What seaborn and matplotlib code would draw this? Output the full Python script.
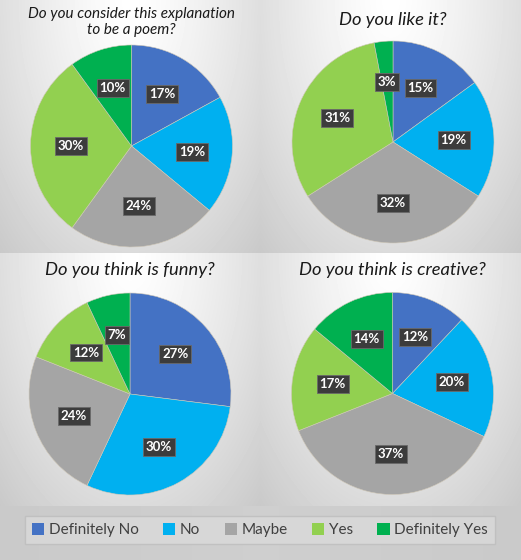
import numpy as np
import matplotlib
matplotlib.use("Agg")
import matplotlib.pyplot as plt
import seaborn as sns
from matplotlib.patches import Patch

sns.set_theme(style="white")
plt.rcParams['font.family'] = ['Lato', 'DejaVu Sans']

# answer categories and colours
categories = ["Definitely No", "No", "Maybe", "Yes", "Definitely Yes"]
palette = sns.color_palette(["#4472C4", "#00B0F0", "#A5A5A5", "#92D050", "#00B050"])

# survey questions and answer shares (%)
titles = ["Do you consider this explanation\nto be a poem?",
          "Do you like it?",
          "Do you think is funny?",
          "Do you think is creative?"]
poem = [17, 19, 24, 30, 10]
like = [15, 19, 32, 31, 3]
funny = [27, 30, 24, 12, 7]
creative = [12, 20, 37, 17, 14]
answers = [poem, like, funny, creative]

W, H = 521, 560
fig = plt.figure(figsize=(W / 100, H / 100), dpi=100)

# gray background with a soft light spot at the top of each panel
bg = np.full((H, W), 0.80)
yy, xx = np.mgrid[0:H, 0:W]
panels = [(0, 260, 0, 253), (260, W, 0, 253), (0, 260, 253, 506), (260, W, 253, 506)]
for x0, x1, y0, y1 in panels:
    m = (xx >= x0) & (xx < x1) & (yy >= y0) & (yy < y1)
    cx = (x0 + x1) / 2
    r = np.sqrt(((xx - cx) / ((x1 - x0) * 0.62)) ** 2 + ((yy - y0) / ((y1 - y0) * 1.15)) ** 2)
    bg[m] = np.clip(1.0 - 0.17 * r[m] ** 1.3, 0.74, 1.0)
m = yy >= 506
bg[m] = 0.81 - 0.02 * np.abs(xx[m] - W / 2) / (W / 2)
bax = fig.add_axes([0, 0, 1, 1])
bax.imshow(bg, cmap="gray", vmin=0, vmax=1, aspect="auto", interpolation="bilinear")
bax.axis("off")

# pie centres, title positions (pixels) and title sizes
centers = [(131.5, 146), (393, 142), (130, 394), (392.5, 393.5)]
title_y = [22, 20, 270, 270]
title_size = [11, 13.2, 13.2, 13.2]
R = 101

for vals, title, (cx, cy), ty, ts in zip(answers, titles, centers, title_y, title_size):
    ax = fig.add_axes([(cx - R) / W, 1 - (cy + R) / H, 2 * R / W, 2 * R / H])
    wedges, texts, autotexts = ax.pie(
        vals, colors=palette, startangle=90, counterclock=False,
        autopct=lambda p: f"{p:.0f}%", pctdistance=0.6,
        wedgeprops=dict(linewidth=0.4, edgecolor="#d0c8b8"))
    for t in autotexts:
        t.set_color("white")
        t.set_fontweight("bold")
        t.set_fontsize(9.5)
        t.set_bbox(dict(boxstyle="square,pad=0.22", fc="#3c3c3c", ec="#6a6a6a", lw=0.6))
    ax.set_xlim(-1, 1)
    ax.set_ylim(-1, 1)
    ax.axis("off")
    fig.text(cx / W, 1 - ty / H, title, ha="center", va="center",
             fontsize=ts, style="italic", color="#1a1a1a", linespacing=1.15)

handles = [Patch(facecolor=c, edgecolor="none") for c in palette]
leg = fig.legend(handles, categories, loc="center", bbox_to_anchor=(260 / W, 1 - 530 / H),
                 ncol=5, frameon=True, fontsize=11, handlelength=0.8, handleheight=0.8,
                 handletextpad=0.3, columnspacing=1.6, borderpad=0.45, fancybox=False,
                 labelcolor="#404040")
leg.get_frame().set_facecolor("#dadada")
leg.get_frame().set_edgecolor("#bdbdbd")
leg.get_frame().set_linewidth(1.0)

fig.savefig("out.png", dpi=100)
